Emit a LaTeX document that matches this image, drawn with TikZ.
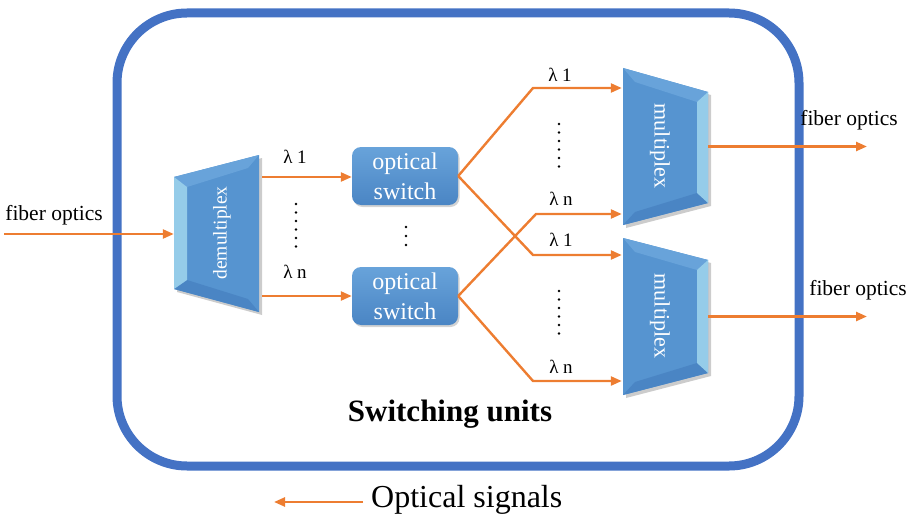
\documentclass[tikz,border=0pt]{standalone}
\usepackage{fontspec}
\setmainfont{Liberation Serif}
\usetikzlibrary{arrows.meta,calc,shadows}
\definecolor{frameblue}{RGB}{68,114,196}
\definecolor{sig}{RGB}{237,125,49}
\definecolor{boxblue}{RGB}{86,148,208}
\definecolor{boxdark}{RGB}{74,133,196}
\definecolor{boxlight}{RGB}{104,163,218}
\definecolor{bevel}{RGB}{165,218,240}
\begin{document}
\begin{tikzpicture}[x=1pt,y=-1pt,
  sigline/.style={draw=sig, line width=2.4pt, -{Triangle[length=11pt,width=9pt]}},
  lbl/.style={font=\fontsize{21.5}{24}\selectfont, inner sep=0pt},
  lam/.style={font=\fontsize{19}{20}\selectfont, inner sep=0pt},
  hold/.style={inner sep=0pt, minimum width=85pt, minimum height=157pt},
  switchbox/.style={rounded corners=9pt, minimum width=106pt, minimum height=58pt,
    top color=boxlight, bottom color=boxdark, draw=none, text=white, align=center,
    font=\fontsize{24}{30}\selectfont, inner sep=0pt,
    drop shadow={opacity=0.35, shadow xshift=1.5pt, shadow yshift=-2pt}},
  trap/.style={fill=boxblue},
  bev/.style={fill=bevel, opacity=0.8},
  dotmark/.style={fill=black}
]
\useasboundingbox (0,0) rectangle (915,524);

% frame
\draw[frameblue, line width=9pt, rounded corners=70pt] (117,13) rectangle (799,466);

% demultiplexer
\node[hold] (demux) at (216.5,233.5) {};
\fill[black, opacity=0.2] (177,180) -- (262,158) -- (262,315) -- (177,292) -- cycle;
\fill[trap] (174,177) -- (259,155) -- (259,312) -- (174,289) -- cycle;
\fill[boxlight] (174,177) -- (259,155) -- (248,168) -- (187,187) -- cycle;
\fill[boxdark] (174,289) -- (259,312) -- (248,299) -- (187,280) -- cycle;
\fill[bev] (174,177) -- (187,187) -- (187,280) -- (174,289) -- cycle;
\node[rotate=90, text=white, font=\fontsize{19.5}{20}\selectfont] (demuxtxt) at (222,233) {demultiplex};

% optical switches
\node[switchbox] (sw1) at (405,176) {optical\\switch};
\node[switchbox] (sw2) at (405,296) {optical\\switch};

% multiplexers
\node[hold] (mux1) at (665.5,146.5) {};
\fill[black, opacity=0.2] (626,71) -- (711,95) -- (711,206) -- (626,228) -- cycle;
\fill[trap] (623,68) -- (708,92) -- (708,203) -- (623,225) -- cycle;
\fill[boxlight] (623,68) -- (708,92) -- (697,102) -- (635,82) -- cycle;
\fill[boxdark] (623,225) -- (708,203) -- (697,193) -- (635,212) -- cycle;
\fill[bev] (708,92) -- (697,102) -- (697,193) -- (708,203) -- cycle;
\node[rotate=-90, text=white, font=\fontsize{22}{24}\selectfont] (mux1txt) at (660,146) {multiplex};

\node[hold] (mux2) at (665.5,316.5) {};
\fill[black, opacity=0.2] (626,241) -- (711,263) -- (711,376) -- (626,398) -- cycle;
\fill[trap] (623,238) -- (708,260) -- (708,373) -- (623,395) -- cycle;
\fill[boxlight] (623,238) -- (708,260) -- (697,270) -- (635,252) -- cycle;
\fill[boxdark] (623,395) -- (708,373) -- (697,363) -- (635,382) -- cycle;
\fill[bev] (708,260) -- (697,270) -- (697,363) -- (708,373) -- cycle;
\node[rotate=-90, text=white, font=\fontsize{22}{24}\selectfont] (mux2txt) at (660,316) {multiplex};

% coordinates for connectors
\coordinate (in1) at (4,234);
\coordinate (d1) at (262,177);
\coordinate (d2) at (262,296);
\coordinate (k1) at (533,88);
\coordinate (k2) at (533,255);
\coordinate (k3) at (536,214);
\coordinate (k4) at (533,381);
\coordinate (out1) at (867,146.5);
\coordinate (out2) at (867,316.5);
\coordinate (legA) at (363,502);
\coordinate (legB) at (274,502);

% connectors
\draw[sigline] (in1) -- (in1 -| demux.west);
\draw[sigline] (d1) -- (d1 -| sw1.west);
\draw[sigline] (d2) -- (d2 -| sw2.west);
\draw[sigline] (sw1.east) -- (k1) -- ($(k1 -| mux1.west)+(-1,0)$);
\draw[sigline] (sw1.east) -- (k2) -- ($(k2 -| mux2.west)+(-1,0)$);
\draw[sigline] (sw2.east) -- (k3) -- ($(k3 -| mux1.west)+(-1,0)$);
\draw[sigline] (sw2.east) -- (k4) -- ($(k4 -| mux2.west)+(-1,0)$);
\draw[sigline] (mux1.east) -- (out1);
\draw[sigline] (mux2.east) -- (out2);
\draw[sigline] (legA) -- (legB);

% labels
\node[lbl] (fin) at (54,215) {fiber optics};
\node[lbl] (fo1) at (849,120) {fiber optics};
\node[lbl] (fo2) at (858,290) {fiber optics};
\node[lam] (l1) at (295,157) {λ 1};
\node[lam] (l2) at (295,272) {λ n};
\node[lam] (l3) at (560,75) {λ 1};
\node[lam] (l4) at (561,199) {λ n};
\node[lam] (l5) at (561,240) {λ 1};
\node[lam] (l6) at (561,367) {λ n};

% dots
\foreach \yy in {204,212.5,221,229.5,238,246.5} \fill[dotmark] (296,\yy) circle (1.4pt);
\foreach \yy in {124,132.5,141,149.5,158,166.5} \fill[dotmark] (559,\yy) circle (1.4pt);
\foreach \yy in {291,299.5,308,316.5,325,333.5} \fill[dotmark] (559,\yy) circle (1.4pt);
\foreach \yy in {227,236,245} \fill[dotmark] (406,\yy) circle (1.4pt);

\node[font=\bfseries\fontsize{31}{34}\selectfont, inner sep=0pt] (title) at (450,414) {Switching units};
\node[font=\fontsize{32}{34}\selectfont, inner sep=0pt, anchor=west] (legtxt) at (371,500) {Optical signals};
\end{tikzpicture}
\end{document}
